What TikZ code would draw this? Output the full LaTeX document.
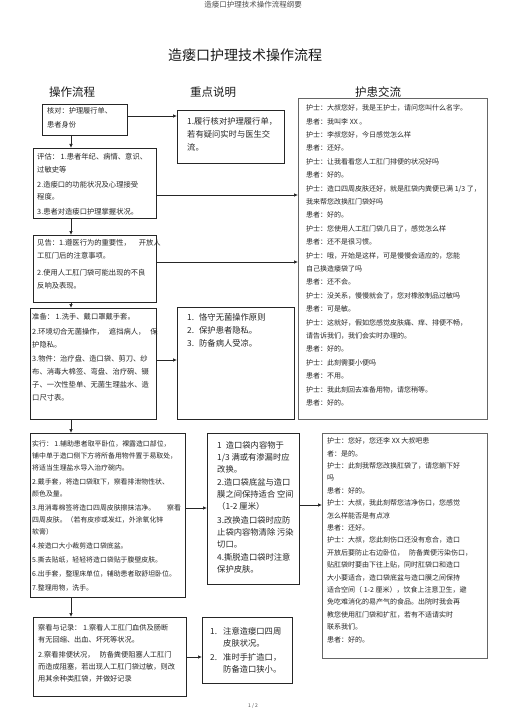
\documentclass[tikz,border=0pt]{standalone}
\usepackage{fontspec}
\setmainfont{Noto Sans CJK SC}
\usetikzlibrary{arrows.meta,shadows}
\def\boxfont#1#2{\fontsize{#1}{#2}\selectfont}
\tikzset{
	box/.style={draw=black!85, line width=0.6pt, fill=white, anchor=north west, outer sep=0pt, inner sep=0pt,
		drop shadow={shadow xshift=0.9pt, shadow yshift=-0.9pt, fill=black!45, opacity=1}},
	talkbox/.style={draw=black!60, line width=1pt, fill=white, anchor=north west, outer sep=0pt, inner sep=0pt},
	txt/.style={anchor=north west, inner sep=0pt, align=left, text=black!85},
	arr/.style={draw=black!85, line width=0.7pt, -{Latex[length=4pt,width=3.5pt]}},
}

\begin{document}
\begin{tikzpicture}[x=1pt, y=-1pt]
		%%%%% START %%%%%
		\useasboundingbox (0,0) rectangle (505,714);
		
		\node[text=black!70, font=\boxfont{7.5}{9}] (header) at (253,5) {造瘘口护理技术操作流程纲要};
		\node[text=black!90, font=\boxfont{14}{16}] (title) at (245,55) {造瘘口护理技术操作流程};
		
		\node[text=black!90, font=\boxfont{11.5}{13}] (head1) at (72,92) {操作流程};
		\node[text=black!90, font=\boxfont{11.5}{13}] (head2) at (213,92) {重点说明};
		\node[text=black!90, font=\boxfont{11.5}{13}] (head3) at (378,92) {护患交流};
		
		% left column
		\node[box, minimum width=85, minimum height=31] (hedui) at (42,104) {};
		\node[box, minimum width=123, minimum height=70] (pinggu) at (33,148) {};
		\node[box, minimum width=123, minimum height=67] (jiangao) at (33,235) {};
		\node[box, minimum width=126, minimum height=111] (zhunbei) at (30,308) {};
		\node[box, minimum width=155, minimum height=164] (shixing) at (30,433) {};
		\node[box, minimum width=153, minimum height=79] (chakan) at (33,617) {};
		
		% middle column
		\node[box, minimum width=107, minimum height=53] (sm1) at (177,110) {};
		\node[box, minimum width=117, minimum height=112] (sm2) at (177,307) {};
		\node[box, minimum width=92, minimum height=151] (sm3) at (207,433) {};
		\node[box, minimum width=90, minimum height=66] (sm4) at (202,617) {};
		
		% right column
		\node[talkbox, minimum width=189, minimum height=320] (jl1) at (298,99) {};
		\node[talkbox, minimum width=165, minimum height=225] (jl2) at (322,433) {};
		
		\node[txt, font=\boxfont{7.2}{14}] (hedui-t) at (47,107.5) {核对：护理履行单、\\患者身份};
		\node[txt, font=\boxfont{7.3}{12.5}] (pinggu-t) at (37,153.5) {评估： 1.患者年纪、病情、意识、\\过敏史等\\[2.5pt]
			2.造瘘口的功能状况及心理接受\\程度。\\[2.5pt]3.患者对造瘘口护理掌握状况。};
		\node[txt, font=\boxfont{7.3}{13}] (jiangao-t) at (37,239.5) {见告：1.遵医行为的重要性，\hspace{8pt}开放人\\工肛门后的注意事项。\\[4pt]
			2.使用人工肛门袋可能出现的不良\\反响及表现。};
		\node[txt, font=\boxfont{7.3}{13}] (zhunbei-t) at (32,313.5) {准备： 1.洗手、戴口罩戴手套。\\[1.5pt]
			2.环境切合无菌操作，\hspace{5pt}遮挡病人，\hspace{5pt}保\\护隐私。\\[1.5pt]
			3.物件：治疗盘、造口袋、剪刀、纱\\布、消毒大棉签、弯盘、治疗碗、镊\\子、一次性垫单、无菌生理盐水、造\\口尺寸表。};
		\node[txt, font=\boxfont{6.9}{12}] (shixing-t) at (32,440.5) {实行： 1.辅助患者取平卧位，裸露造口部位，\\
			铺中单于造口侧下方将所备用物件置于易取处，\\将适当生理盐水导入治疗碗内。\\[2pt]
			2.戴手套，将造口袋取下，察看排泄物性状、\\颜色及量。\\[2pt]
			3.用消毒棉签将造口四周皮肤擦抹洁净。\hspace{12pt}察看\\四周皮肤。（若有皮疹或发红，外涂氧化锌\\软膏）\\[2pt]
			4.按造口大小裁剪造口袋底盆。\\[2pt]5.撕去贴纸，轻轻将造口袋贴于腹壁皮肤。\\[2pt]
			6.出手套，整理床单位，辅助患者取舒坦卧位。\\[2pt]7.整理用物，洗手。};
		\node[txt, font=\boxfont{7.2}{12}] (chakan-t) at (38,624.5) {察看与记录： 1.察看人工肛门血供及肠断\\有无回缩、出血、坏死等状况。\\[3pt]
			2.察看排便状况，\hspace{5pt}防备粪便阻塞人工肛门\\而造成阻塞，若出现人工肛门袋过敏，则改\\用其余种类肛袋，并做好记录};
		
		\node[txt, font=\boxfont{8.3}{13}] (sm1-t) at (187,116.8) {1.履行核对护理履行单，\\若有疑问实时与医生交\\流。};
		\node[txt, font=\boxfont{8.3}{13}] (sm2-t) at (187,312.8) {\makebox[12pt][l]{1.}恪守无菌操作原则\\
			\makebox[12pt][l]{2.}保护患者隐私。\\\makebox[12pt][l]{3.}防备病人受凉。};
		\node[txt, font=\boxfont{8.3}{12}] (sm3-t) at (217,440.8) {1\hspace{4pt}造口袋内容物于\\1/3 满或有渗漏时应\\改换。\\[1.5pt]
			2.造口袋底盆与造口\\膜之间保持适合 空间\\（1-2 厘米）\\[1.5pt]
			3.改换造口袋时应防\\止袋内容物清除 污染\\切口。\\[1.5pt]4.撕脱造口袋时注意\\保护皮肤。};
		\node[txt, font=\boxfont{8.3}{12}] (sm4-t) at (210,626.8) {\makebox[13pt][l]{1.}注意造瘘口四周\\\hspace*{13pt}皮肤状况。\\[2pt]
			\makebox[13pt][l]{2.}准时手扩造口，\\\hspace*{13pt}防备造口狭小。};
		
		\node[txt, font=\boxfont{7}{13.4}] (jl1-t) at (306,104.5) {护士：大叔您好，我是王护士，请问您叫什么名字。\\患者：我叫李 XX 。\\
			护士：李叔您好，今日感觉怎么样\\患者：还好。\\护士：让我看看您人工肛门排便的状况好吗\\患者：好的。\\
			护士：造口四周皮肤还好，就是肛袋内粪便已满 1/3 了，\\我来帮您改换肛门袋好吗\\患者：好的。\\
			护士：您使用人工肛门袋几日了，感觉怎么样\\患者：还不是很习惯。\\
			护士：哦，开始是这样，可是慢慢会适应的，您能\\自己换造瘘袋了吗\\患者：还不会。\\
			护士：没关系，慢慢就会了，您对橡胶制品过敏吗\\患者：可是敏。\\
			护士：这就好，假如您感觉皮肤痛、痒、排便不畅，\\请告诉我们，我们会实时办理的。\\患者：好的。\\
			护士：此刻需要小便吗\\患者：不用。\\护士：我此刻回去准备用物，请您稍等。\\患者：好的。};
		\node[txt, font=\boxfont{7}{12.4}] (jl2-t) at (327,437.5) {护士：您好，您还李 XX 大叔吧患\\者：是的。\\
			护士：此刻我帮您改换肛袋了，请您躺下好\\吗\\患者：好的。\\
			护士：大叔，我此刻帮您洁净伤口，您感觉\\怎么样能否是有点凉\\患者：还好。\\
			护士：大叔，您此刻伤口还没有愈合，造口\\开放后要防止右边卧位，\hspace{5pt}防备粪便污染伤口，\\
			贴肛袋时要由下往上贴，同时肛袋口和造口\\大小要适合，造口袋底盆与造口膜之间保持\\
			适合空间（ 1-2 厘米），饮食上注意卫生，避\\免吃难消化的易产气的食品。出院时我会再\\
			教您使用肛门袋和扩肛，若有不适请实时\\联系我们。\\患者：好的。};
		
		\node[text=black!70, font=\boxfont{5}{6}] (page) at (253,706) {1 / 2};
		
		% connectors
		\coordinate (spine) at (71,0);
		\draw[arr] (hedui.south -| spine) -- (pinggu.north -| spine);
		\draw[arr] (pinggu.south -| spine) -- (jiangao.north -| spine);
		\draw[arr] (jiangao.south -| spine) -- (zhunbei.north -| spine);
		\draw[arr] (zhunbei.south -| spine) -- (shixing.north -| spine);
		\draw[arr] (shixing.south -| spine) -- (chakan.north -| spine);
		
		\coordinate (row1) at (0,116);
		\coordinate (row2) at (0,195);
		\coordinate (row3) at (0,262);
		\coordinate (row4) at (0,360);
		\coordinate (row5) at (0,508);
		\coordinate (row6) at (0,505);
		\coordinate (row7) at (0,657);
		\draw[arr] (hedui.east |- row1) -- (sm1.west |- row1);
		\draw[arr] (pinggu.east |- row2) -- (jl1.west |- row2);
		\draw[arr] (jiangao.east |- row3) -- (jl1.west |- row3);
		\draw[arr] (zhunbei.east |- row4) -- (sm2.west |- row4);
		\draw[arr] (shixing.east |- row5) -- (sm3.west |- row5);
		\draw[arr] (sm3.east |- row6) -- (jl2.west |- row6);
		\draw[arr] (chakan.east |- row7) -- (sm4.west |- row7);
		
		%%%%% END %%%%%
\end{tikzpicture}
\end{document}
